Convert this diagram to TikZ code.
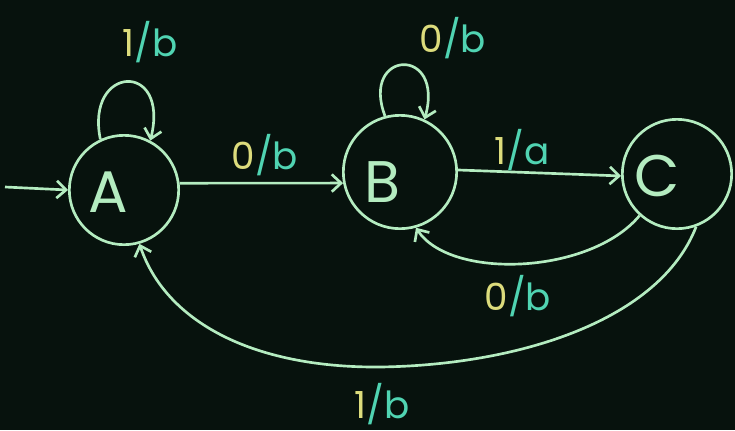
\documentclass[tikz,border=0pt]{standalone}
\usepackage{fontspec}
\setmainfont{Poppins}
\usetikzlibrary{arrows.meta}
\definecolor{bg}{HTML}{07120D}
\definecolor{ln}{HTML}{B4ECC0}
\definecolor{yel}{HTML}{DCDC7C}
\definecolor{tea}{HTML}{50D4B2}
\tikzset{
  stbox/.style={circle,draw=ln,line width=2pt,minimum size=82pt,inner sep=0pt},
  lettr/.style={text=ln,font=\fontsize{44}{48}\selectfont},
  edge/.style={draw=ln,line width=2pt,-{Straight Barb[length=7pt,width=13pt,line width=2pt]}},
  lab/.style={font=\fontsize{28}{32}\selectfont,inner sep=0pt}
}
\newcommand{\io}[2]{{\color{yel}#1}{\color{tea}/#2}}
\begin{document}
\begin{tikzpicture}[x=0.75pt,y=-0.75pt]
\fill[bg] (0,0) rectangle (735,430);
\useasboundingbox (0,0) rectangle (735,430);
\node[stbox] (A) at (124,190) {};
\node[stbox,minimum size=85pt] (B) at (400,172) {};
\node[stbox] (C) at (677,174) {};
\node[lettr] (Al) at (108,192) {A};
\node[lettr] (Bl) at (382,182) {B};
\node[lettr] (Cl) at (657,176) {C};
\coordinate (start) at (5,187);
\coordinate (m1) at (380,367);
\draw[edge] (start) -- (A.west);
\draw[edge] (A.115) .. controls (85,65) and (170,60) .. (A.62);
\draw[edge] (B.105) .. controls (360,50) and (445,45) .. (B.65);
\draw[edge] (A.7) -- (B.191);
\draw[edge] (B.2) -- (C.182);
\draw[edge] (C.228) .. controls (590,275) and (450,280) .. (B.286);
\draw[edge] (C.290) .. controls (660,320) and (520,365) .. (m1) .. controls (250,368) and (165,320) .. (A.286);
\node[lab] (l1) at (150,42) {\io{1}{b}};
\node[lab] (l2) at (265,155) {\io{0}{b}};
\node[lab] (l3) at (453,38) {\io{0}{b}};
\node[lab] (l4) at (522,150) {\io{1}{a}};
\node[lab] (l5) at (518,296) {\io{0}{b}};
\node[lab] (l6) at (382,404) {\io{1}{b}};
\end{tikzpicture}
\end{document}
